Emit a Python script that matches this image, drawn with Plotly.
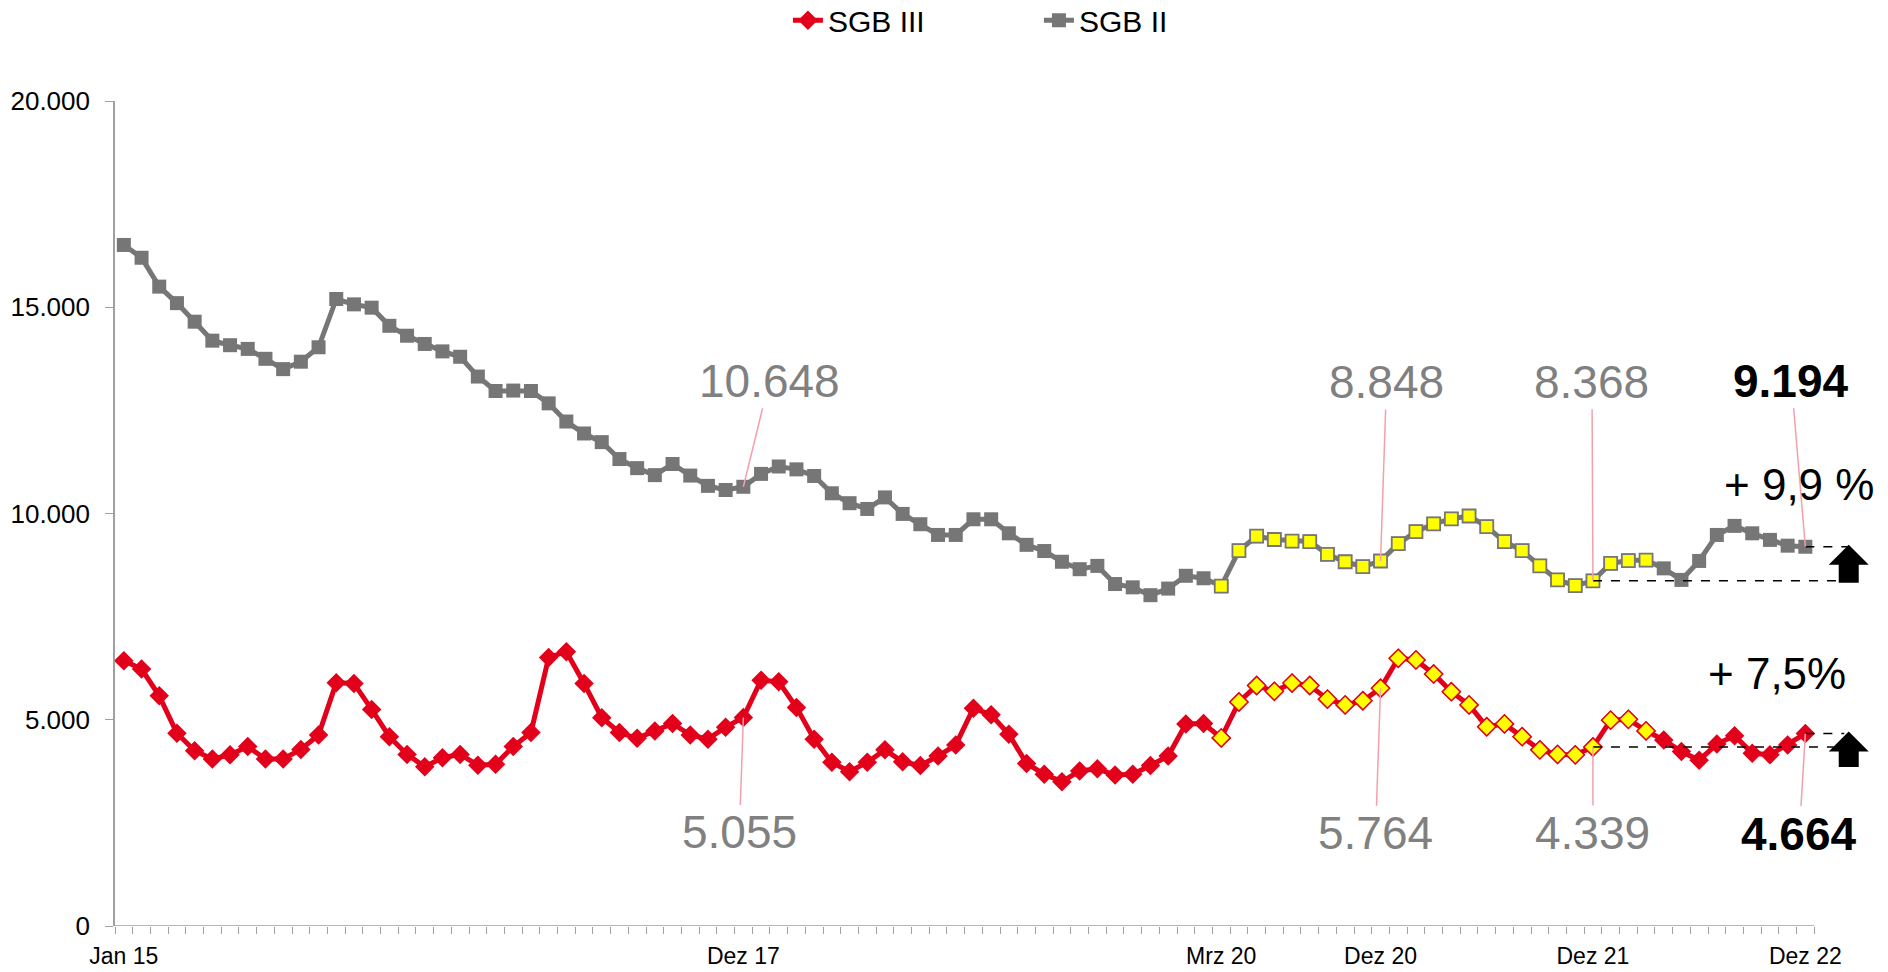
import plotly.graph_objects as go

# ---------------- data ----------------
month_names = ["Jan", "Feb", "Mrz", "Apr", "Mai", "Jun", "Jul", "Aug", "Sep", "Okt", "Nov", "Dez"]
years = [15, 16, 17, 18, 19, 20, 21, 22]
months = [f"{m} {y}" for y in years for m in month_names]

sgb3 = [6430, 6230, 5580, 4670, 4250, 4050, 4150, 4350, 4050, 4050, 4280, 4630,
        5900, 5880, 5250, 4590, 4160, 3860, 4080, 4160, 3900, 3920, 4350, 4690,
        6510, 6650, 5880, 5050, 4690, 4550, 4730, 4910, 4630, 4530, 4820, 5055,
        5960, 5920, 5300, 4530, 3970, 3740, 3970, 4270, 3980, 3890, 4120, 4390,
        5280, 5120, 4650, 3940, 3680, 3500, 3760, 3810, 3660, 3680, 3890, 4120,
        4900, 4910, 4560, 5430, 5830, 5690, 5890, 5830, 5500, 5360, 5460, 5764,
        6490, 6450, 6110, 5680, 5360, 4830, 4900, 4590, 4270, 4160, 4150, 4339,
        4990, 5010, 4730, 4510, 4230, 4020, 4410, 4610, 4190, 4150, 4390, 4664]

sgb2 = [16510, 16200, 15500, 15100, 14650, 14190, 14080, 13990, 13750, 13500, 13680, 14030,
        15200, 15070, 14990, 14550, 14310, 14110, 13930, 13800, 13320, 12970, 12980, 12970,
        12670, 12230, 11940, 11730, 11320, 11100, 10930, 11200, 10920, 10670, 10570, 10648,
        10960, 11140, 11070, 10910, 10490, 10250, 10110, 10390, 9990, 9740, 9480, 9480,
        9860, 9860, 9520, 9240, 9090, 8830, 8650, 8730, 8290, 8210, 8020, 8180,
        8490, 8430, 8240, 9100, 9450, 9370, 9330, 9320, 9010, 8830, 8710, 8848,
        9270, 9560, 9750, 9870, 9940, 9680, 9320, 9100, 8730, 8390, 8250, 8368,
        8790, 8860, 8870, 8670, 8390, 8850, 9480, 9700, 9520, 9360, 9220, 9194]

tick_labels = ["Jan 15", "Dez 17", "Mrz 20", "Dez 20", "Dez 21", "Dez 22"]
y_ticks = [0, 5000, 10000, 15000, 20000]
highlight_start, highlight_end = "Mrz 20", "Mrz 22"
label_months = ["Dez 17", "Dez 20", "Dez 21", "Dez 22"]
compare_from, compare_to = "Dez 21", "Dez 22"

# ---------------- style ----------------
RED = "#E2001A"
GRAY = "#767676"
YELLOW = "#FFFF00"
AXIS = "#A0A0A0"
LABEL_GRAY = "#808080"
LEADER = "#F4A0AC"
FONT = "Liberation Sans, Arial, sans-serif"

x = list(range(len(months)))
idx = {m: i for i, m in enumerate(months)}
hs, he = idx[highlight_start], idx[highlight_end]
hx = list(range(hs, he + 1))

fig = go.Figure()
fig.add_trace(go.Scatter(x=x, y=sgb3, name="SGB III", mode="lines+markers",
                         line=dict(color=RED, width=5),
                         marker=dict(symbol="diamond", size=15, color=RED)))
fig.add_trace(go.Scatter(x=x, y=sgb2, name="SGB II", mode="lines+markers",
                         line=dict(color=GRAY, width=5),
                         marker=dict(symbol="square", size=14, color=GRAY)))
fig.add_trace(go.Scatter(x=hx, y=[sgb3[i] for i in hx], mode="markers", showlegend=False,
                         marker=dict(symbol="diamond", size=14, color=YELLOW,
                                     line=dict(color=RED, width=1.5))))
fig.add_trace(go.Scatter(x=hx, y=[sgb2[i] for i in hx], mode="markers", showlegend=False,
                         marker=dict(symbol="square", size=13, color=YELLOW,
                                     line=dict(color=GRAY, width=1.8))))

def fmt(v):
    return f"{v:,}".replace(",", ".")

annotations = []
gray_offsets = [(26, -106), (6, -179), (-1, -199), (-14, -166)]
red_offsets = [(-4, 115), (-5, 145), (0, 86), (-6, 100)]
for k, m in enumerate(label_months):
    i = idx[m]
    last = (k == len(label_months) - 1)
    for series, (ax_, ay_) in ((sgb2, gray_offsets[k]), (sgb3, red_offsets[k])):
        annotations.append(dict(
            x=i, y=series[i], xref="x", yref="y", text=(f"<b>{fmt(series[i])}</b>" if last else fmt(series[i])),
            showarrow=True, arrowhead=0, arrowwidth=1.5, arrowcolor=LEADER, ax=ax_, ay=ay_,
            font=dict(family=FONT, size=46, color="#000000" if last else LABEL_GRAY)))

i0, i1 = idx[compare_from], idx[compare_to]
pct2 = f"{(sgb2[i1] / sgb2[i0] - 1) * 100:.1f}".replace(".", ",")
pct3 = f"{(sgb3[i1] / sgb3[i0] - 1) * 100:.1f}".replace(".", ",")
annotations.append(dict(x=i1, y=sgb2[i1], xref="x", yref="y", text=f"+ {pct2} %", showarrow=False,
                        xshift=-6, yshift=62, font=dict(family=FONT, size=44, color="#000000")))
annotations.append(dict(x=i1, y=sgb3[i1], xref="x", yref="y", text=f"+ {pct3}%", showarrow=False,
                        xshift=-28, yshift=60, font=dict(family=FONT, size=44, color="#000000")))

# geometry helpers
PX_X = 1770 / 100.0      # px per category
PX_Y = 825 / 20000.0     # px per unit value

def block_arrow(xc, y_top, y_bot):
    hw, sw, hh = 20 / PX_X, 10 / PX_X, 20 / PX_Y
    yb = y_top - hh
    return (f"M {xc - sw},{y_bot} L {xc + sw},{y_bot} L {xc + sw},{yb} L {xc + hw},{yb} "
            f"L {xc},{y_top} L {xc - hw},{yb} L {xc - sw},{yb} Z")

ARROW_X = 97.45
shapes = [
    dict(type="line", xref="x", yref="y", x0=-0.5, x1=len(months) - 0.5, y0=0, y1=0,
         line=dict(color=AXIS, width=1.6)),
    # dashed reference lines
    dict(type="line", xref="x", yref="y", x0=i0, x1=98.0, y0=sgb2[i0], y1=sgb2[i0],
         line=dict(color="black", width=1.5, dash="dash")),
    dict(type="line", xref="x", yref="y", x0=i1, x1=97.45, y0=sgb2[i1], y1=sgb2[i1],
         line=dict(color="black", width=1.5, dash="dash")),
    dict(type="line", xref="x", yref="y", x0=i0, x1=96.6, y0=sgb3[i0], y1=sgb3[i0],
         line=dict(color="black", width=1.5, dash="dash")),
    dict(type="line", xref="x", yref="y", x0=i1, x1=97.2, y0=sgb3[i1], y1=sgb3[i1],
         line=dict(color="black", width=1.5, dash="dash")),
    dict(type="path", xref="x", yref="y", path=block_arrow(ARROW_X, sgb2[i1] + 2 / PX_Y, sgb2[i0] - 2 / PX_Y),
         fillcolor="black", line=dict(color="black", width=0)),
    dict(type="path", xref="x", yref="y", path=block_arrow(ARROW_X, sgb3[i1] + 2 / PX_Y, sgb3[i0] - 20 / PX_Y),
         fillcolor="black", line=dict(color="black", width=0)),
]

fig.update_layout(
    width=1888, height=972,
    margin=dict(l=115, r=3, t=101, b=46, autoexpand=False),
    plot_bgcolor="white", paper_bgcolor="white",
    font=dict(family=FONT, color="#000000"),
    showlegend=True,
    legend=dict(orientation="h", x=0.522, xanchor="center", y=1.098, yanchor="middle",
                font=dict(family=FONT, size=30, color="#000000"), entrywidth=206,
                bgcolor="rgba(0,0,0,0)"),
    annotations=annotations,
    shapes=shapes,
)
fig.update_xaxes(range=[-0.5, 99.5], showgrid=False, zeroline=False, showline=False,
                 tickmode="array", tickvals=[idx[t] for t in tick_labels], ticktext=tick_labels,
                 ticks="", tickfont=dict(family=FONT, size=23, color="#000000"),
                 ticklabelstandoff=14,
                 minor=dict(tickmode="array", tickvals=[i - 0.5 for i in range(len(months) + 1)],
                            ticks="outside", ticklen=7, tickwidth=1.2, tickcolor=AXIS, showgrid=False))
fig.update_yaxes(range=[0, 20000], showgrid=False, zeroline=False, showline=True,
                 linecolor=AXIS, linewidth=1.6,
                 tickmode="array", tickvals=y_ticks, ticktext=[fmt(v) for v in y_ticks],
                 ticks="outside", ticklen=8, tickwidth=1.2, tickcolor=AXIS,
                 tickfont=dict(family=FONT, size=26, color="#000000"), ticklabelstandoff=10)

fig.write_html("out.html", config={"displayModeBar": False},
               post_script="document.body.style.margin='0';document.body.style.overflow='hidden';")
